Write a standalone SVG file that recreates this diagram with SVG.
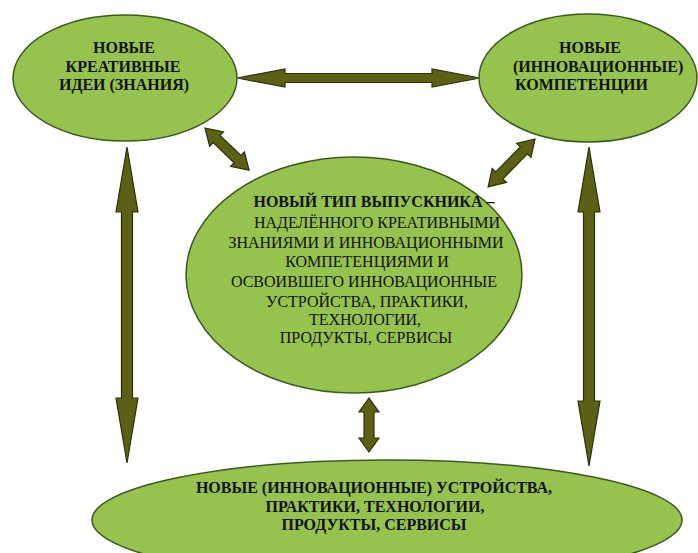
<svg xmlns="http://www.w3.org/2000/svg" width="698" height="553" viewBox="0 0 698 553">
<style>
.node{fill:#96c24e;stroke:#3d5a1e;stroke-width:1.5}
.arr{fill:#5b6015;stroke:#2c3008;stroke-width:1.2;stroke-linejoin:miter}
.b{font-family:"Liberation Serif","Times New Roman",serif;font-weight:bold;font-size:16px;fill:#111}
.r{font-family:"Liberation Serif","Times New Roman",serif;font-size:16px;fill:#111}
.m{text-anchor:middle}
</style>
<rect width="698" height="553" fill="#fff"/>
<g id="connectors">
<polygon class="arr" transform="translate(237,78)" points="0,0 48,-9 48,-4.5 195,-4.5 195,-9 243,0 195,9 195,4.5 48,4.5 48,9"/>
<polygon class="arr" transform="translate(127,147) rotate(90)" points="0,0 65,-11 65,-5.5 251,-5.5 251,-11 316,0 251,11 251,5.5 65,5.5 65,11"/>
<polygon class="arr" transform="translate(589,147) rotate(90)" points="0,0 65,-11 65,-5.5 254,-5.5 254,-11 319,0 254,11 254,5.5 65,5.5 65,11"/>
<polygon class="arr" transform="translate(369,398) rotate(90)" points="0,0 14,-10 14,-5 40,-5 40,-10 54,0 40,10 40,5 14,5 14,10"/>
<polygon class="arr" transform="translate(205,128) rotate(43.7)" points="0,0 16,-10 16,-5 45,-5 45,-10 61,0 45,10 45,5 16,5 16,10"/>
<polygon class="arr" transform="translate(535,139) rotate(134.4)" points="0,0 16,-10 16,-5 51,-5 51,-10 67,0 51,10 51,5 16,5 16,10"/>
</g>
<g id="ideas">
<ellipse class="node" cx="125" cy="78" rx="112" ry="63"/>
<text class="b m" x="124" y="53">НОВЫЕ</text>
<text class="b m" x="123" y="72">КРЕАТИВНЫЕ</text>
<text class="b m" x="124" y="90">ИДЕИ (ЗНАНИЯ)</text>
</g>
<g id="competences">
<ellipse class="node" cx="588" cy="78" rx="109" ry="64"/>
<text class="b m" x="590" y="53">НОВЫЕ</text>
<text class="b" x="513" y="72">(ИННОВАЦИОННЫЕ)</text>
<text class="b" x="515" y="90">КОМПЕТЕНЦИИ</text>
</g>
<g id="graduate">
<ellipse class="node" cx="354" cy="275" rx="168" ry="118"/>
<text class="b m" x="374" y="207">НОВЫЙ ТИП ВЫПУСКНИКА –</text>
<text class="r m" x="377" y="228">НАДЕЛЁННОГО КРЕАТИВНЫМИ</text>
<text class="r m" x="366" y="248">ЗНАНИЯМИ И ИННОВАЦИОННЫМИ</text>
<text class="r m" x="367" y="267">КОМПЕТЕНЦИЯМИ И</text>
<text class="r m" x="364" y="287">ОСВОИВШЕГО ИННОВАЦИОННЫЕ</text>
<text class="r m" x="367" y="307">УСТРОЙСТВА, ПРАКТИКИ,</text>
<text class="r m" x="365" y="325">ТЕХНОЛОГИИ,</text>
<text class="r m" x="366" y="343">ПРОДУКТЫ, СЕРВИСЫ</text>
</g>
<g id="devices">
<ellipse class="node" cx="387" cy="520" rx="295" ry="60"/>
<text class="b m" x="374" y="493">НОВЫЕ (ИННОВАЦИОННЫЕ) УСТРОЙСТВА,</text>
<text class="b m" x="375" y="512">ПРАКТИКИ, ТЕХНОЛОГИИ,</text>
<text class="b m" x="374" y="530">ПРОДУКТЫ, СЕРВИСЫ</text>
</g>
</svg>
